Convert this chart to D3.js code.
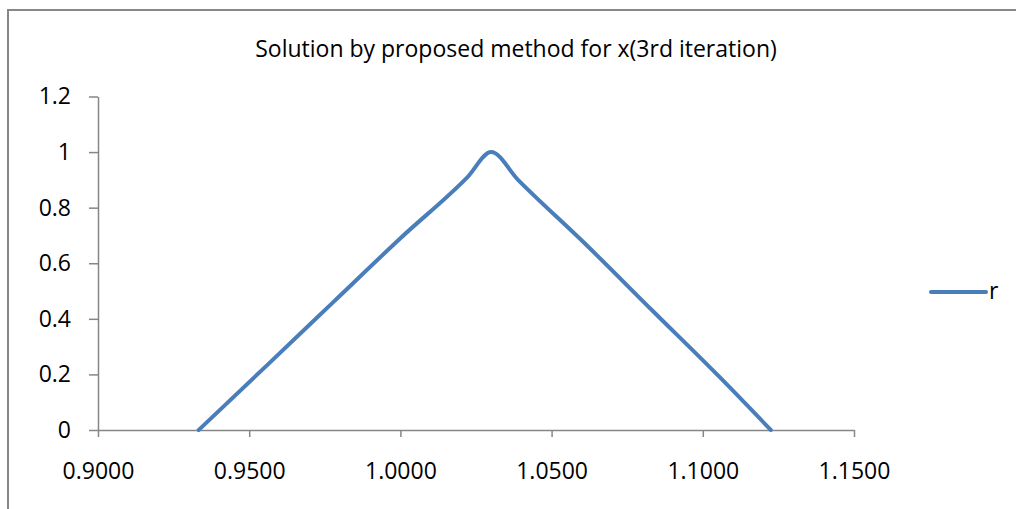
<!DOCTYPE html>
<html>
<head>
<meta charset="utf-8">
<script src="https://cdn.jsdelivr.net/npm/d3@7"></script>
<style>
  html, body { margin: 0; padding: 0; background: #fff; }
  text { font-family: "Open Sans", "Liberation Sans", sans-serif; fill: #000; }
</style>
</head>
<body>
<svg id="chart" width="1016" height="509"></svg>
<script>
// values
const xValues = [0.9333, 0.9556, 0.9778, 1.0000, 1.0222, 1.0300, 1.0389, 1.0611, 1.0833, 1.1056, 1.1225];
const rValues = [0, 0.23, 0.46, 0.69, 0.91, 1.0, 0.90, 0.67, 0.43, 0.19, 0];
const xTicks = [0.90, 0.95, 1.00, 1.05, 1.10, 1.15];
const yTicks = [0, 0.2, 0.4, 0.6, 0.8, 1, 1.2];
const seriesName = "r";
const title = "Solution by proposed method for x(3rd iteration)";

const LINE_COLOR = "#4a7ebb";
const AXIS_COLOR = "#868686";
const FONT_SIZE = 23;

const svg = d3.select("#chart");

// outer chart border (cut off on the right and bottom)
svg.append("rect")
  .attr("x", 8)
  .attr("y", 10)
  .attr("width", 1020)
  .attr("height", 520)
  .attr("fill", "none")
  .attr("stroke", "#878787")
  .attr("stroke-width", 2);

const plot = { left: 98, right: 854, top: 96.5, bottom: 430 };

const x = d3.scaleLinear().domain([0.9, 1.15]).range([plot.left, plot.right]);
const y = d3.scaleLinear().domain([0, 1.2]).range([plot.bottom, plot.top]);

svg.append("text")
  .attr("x", 516)
  .attr("y", 57)
  .attr("text-anchor", "middle")
  .attr("font-size", FONT_SIZE)
  .text(title);

// y axis
const yAxis = svg.append("g")
  .attr("transform", `translate(${plot.left},0)`)
  .call(d3.axisLeft(y).tickValues(yTicks).tickSize(9).tickPadding(18)
    .tickFormat(d3.format("")).tickSizeOuter(0));

// x axis
const xAxis = svg.append("g")
  .attr("transform", `translate(0,${plot.bottom})`)
  .call(d3.axisBottom(x).tickValues(xTicks).tickSize(7).tickPadding(26)
    .tickFormat(d3.format(".4f")).tickSizeOuter(0));

[yAxis, xAxis].forEach((g) => {
  g.select(".domain").attr("stroke", AXIS_COLOR).attr("stroke-width", 1.5);
  g.selectAll(".tick line").attr("stroke", AXIS_COLOR).attr("stroke-width", 1.5);
  g.selectAll(".tick text")
    .attr("font-size", FONT_SIZE)
    .attr("font-family", "'Open Sans', 'Liberation Sans', sans-serif")
    .attr("fill", "#000");
});

// series line
const data = xValues.map((v, i) => ({ x: v, y: rValues[i] }));
svg.append("path")
  .datum(data)
  .attr("fill", "none")
  .attr("stroke", LINE_COLOR)
  .attr("stroke-width", 4)
  .attr("stroke-linecap", "round")
  .attr("stroke-linejoin", "round")
  .attr("d", d3.line().x((d) => x(d.x)).y((d) => y(d.y)).curve(d3.curveMonotoneX));

// legend
const legend = svg.append("g").attr("transform", "translate(931,292)");
legend.append("line")
  .attr("x1", 0).attr("x2", 55)
  .attr("stroke", LINE_COLOR)
  .attr("stroke-width", 4)
  .attr("stroke-linecap", "round");
legend.append("text")
  .attr("x", 58)
  .attr("y", 7)
  .attr("font-size", FONT_SIZE)
  .text(seriesName);
</script>
</body>
</html>
